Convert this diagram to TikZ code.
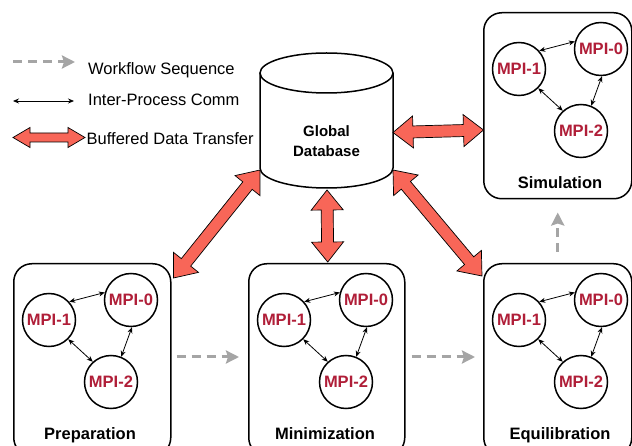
\documentclass[tikz,border=0pt]{standalone}
\usepackage{fontspec}
\setmainfont{Liberation Sans}
\usetikzlibrary{arrows.meta,calc}
\definecolor{fatred}{RGB}{248,102,88}
\definecolor{mpired}{RGB}{176,30,56}
\definecolor{flowgray}{RGB}{165,165,165}

% #1 start, #2 end, #3 half shaft, #4 half head, #5 head length
\newcommand\fatdbl[5]{%
  \coordinate (da1) at ($(#1)!#5!(#2)$);
  \coordinate (da2) at ($(#2)!#5!(#1)$);
  \filldraw[fill=fatred, draw=black, line width=0.7pt, line join=miter]
    (#1) -- ($(da1)!#4!90:(#2)$) -- ($(da1)!#3!90:(#2)$)
    -- ($(da2)!#3!-90:(#1)$) -- ($(da2)!#4!-90:(#1)$) -- (#2)
    -- ($(da2)!#4!90:(#1)$) -- ($(da2)!#3!90:(#1)$)
    -- ($(da1)!#3!-90:(#2)$) -- ($(da1)!#4!-90:(#2)$) -- cycle;
}

% #1 name, #2 x, #3 y, #4 width, #5 height, #6 label
\newcommand\mkstage[6]{%
  \node[stagebox, minimum width=#4, minimum height=#5] (#1) at (#2,#3) {};
  \node[stagelabel] (#1lab) at ($(#1.north west)+(77,176.5)$) {#6};
  \node[mpi] (#1a) at ($(#1.north west)+(36,57)$) {MPI-1};
  \node[mpi] (#1b) at ($(#1.north west)+(118,37)$) {MPI-0};
  \node[mpi] (#1c) at ($(#1.north west)+(98,119)$) {MPI-2};
  \draw[ipc] (#1a.42) -- (#1b.164);
  \draw[ipc] (#1a.-45) -- (#1c.132);
  \draw[ipc] (#1b.-88) -- (#1c.68);
}

\begin{document}
\begin{tikzpicture}[x=1pt,y=-1pt,
  stagebox/.style={draw, line width=1.5pt, rounded corners=18pt, anchor=north west, inner sep=0pt},
  stagelabel/.style={anchor=base, inner sep=0pt, font=\bfseries\fontsize{16.5}{16.5}\selectfont},
  mpi/.style={circle, draw, line width=1.5pt, minimum size=53pt, inner sep=0pt, fill=white,
    text=mpired, font=\bfseries\fontsize{16.5}{16.5}\selectfont},
  ipc/.style={line width=0.8pt, {Stealth[length=6pt,width=5pt]}-{Stealth[length=6pt,width=5pt]}},
  flow/.style={line width=3pt, draw=flowgray, dash pattern=on 9pt off 6pt,
    -{Stealth[length=13pt,width=13pt,inset=2pt,fill=flowgray]}},
  legtext/.style={anchor=base west, inner sep=0pt, font=\fontsize{16.5}{16.5}\selectfont},
  dbtext/.style={anchor=base, inner sep=0pt, font=\bfseries\fontsize{15}{15}\selectfont}
]
\useasboundingbox (0,0) rectangle (632,446);
\clip (0,0) rectangle (632,446);

% Legend
\coordinate (lw1) at (13,62);
\coordinate (lw2) at (75,62);
\draw[flow] (lw1) -- (lw2);
\node[legtext] (lwt) at (88,74.5) {Workflow Sequence};
\coordinate (li1) at (13,101);
\coordinate (li2) at (74,101);
\draw[ipc] (li1) -- (li2);
\node[legtext] (lit) at (88,105.5) {Inter-Process Comm};
\coordinate (lb1) at (13,137.5);
\coordinate (lb2) at (85,137.5);
\fatdbl{lb1}{lb2}{4.5pt}{10pt}{17pt}
\node[legtext] (lbt) at (86.5,144.5) {Buffered Data Transfer};

% Global database cylinder
\filldraw[fill=white, line width=1.5pt] (260,73) -- (260,168)
  arc[start angle=180, end angle=360, x radius=66.5pt, y radius=20pt] -- (393,73);
\draw[line width=1.5pt] (326.5,73) ellipse [x radius=66.5pt, y radius=20pt];
\node[dbtext] (dbt1) at (326.5,137) {Global};
\node[dbtext] (dbt2) at (326.5,157) {Database};

% Stages
\mkstage{prep}{13}{263}{157pt}{192pt}{Preparation}
\mkstage{mini}{248}{263}{156pt}{192pt}{Minimization}
\mkstage{equi}{483}{263}{148pt}{192pt}{Equilibration}
\mkstage{simu}{483}{12}{148pt}{186pt}{Simulation}

% Buffered data transfers
\coordinate (dbSW) at (260,170);
\coordinate (dbS) at (327,190);
\coordinate (dbE) at (393,132.5);
\coordinate (dbSE) at (393,170);
\coordinate (prepNE) at ($(prep.north east)+(2,15)$);
\coordinate (miniN) at ($(mini.north)+(1,-1)$);
\coordinate (equiNW) at ($(equi.north west)+(-1,13)$);
\coordinate (simuW) at ($(simu.north west)+(0.5,118)$);
\fatdbl{dbSW}{prepNE}{6pt}{16pt}{20pt}
\fatdbl{dbS}{miniN}{6pt}{16pt}{20pt}
\fatdbl{dbSE}{equiNW}{6pt}{16pt}{20pt}
\fatdbl{dbE}{simuW}{6pt}{16pt}{20pt}

% Workflow sequence
\coordinate (f1a) at ($(prep.north east)+(5,94)$);
\coordinate (f1b) at ($(mini.north west)+(-9,94)$);
\draw[flow] (f1a) -- (f1b);
\coordinate (f2a) at ($(mini.north east)+(6,94)$);
\coordinate (f2b) at ($(equi.north west)+(-8,94)$);
\draw[flow] (f2a) -- (f2b);
\coordinate (f3a) at ($(equi.north)+(0,-11)$);
\coordinate (f3b) at ($(simu.south)+(0,13)$);
\draw[flow] (f3a) -- (f3b);
\end{tikzpicture}
\end{document}
